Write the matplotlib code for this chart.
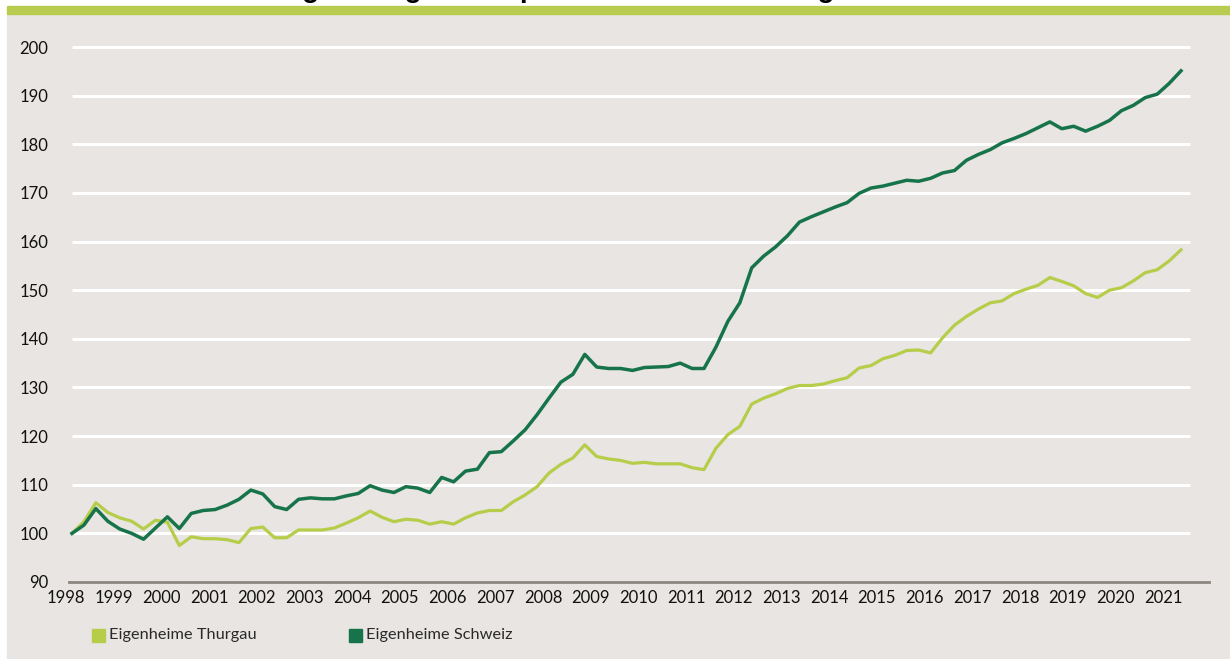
import numpy as np
import matplotlib
matplotlib.use("Agg")
import matplotlib.pyplot as plt
import matplotlib.transforms as mtransforms
from matplotlib.patches import Rectangle

# quarterly index values, 1998 Q1 = 100, up to 2021 Q2
start_year = 1998
thurgau = [100.0, 102.4, 106.3, 104.3,
           103.2, 102.5, 100.9, 102.7,
           102.3, 97.5, 99.3, 98.9,
           98.9, 98.7, 98.1, 101.0,
           101.3, 99.1, 99.1, 100.7,
           100.7, 100.7, 101.1, 102.1,
           103.2, 104.6, 103.3, 102.4,
           102.9, 102.7, 101.9, 102.4,
           101.9, 103.2, 104.2, 104.7,
           104.7, 106.5, 107.9, 109.6,
           112.4, 114.2, 115.5, 118.2,
           115.8, 115.3, 115.0, 114.4,
           114.6, 114.3, 114.3, 114.3,
           113.5, 113.1, 117.5, 120.3,
           122.0, 126.6, 127.8, 128.7,
           129.8, 130.4, 130.4, 130.7,
           131.4, 132.0, 134.0, 134.5,
           135.9, 136.6, 137.6, 137.7,
           137.1, 140.2, 142.8, 144.6,
           146.1, 147.4, 147.8, 149.3,
           150.2, 151.0, 152.6, 151.8,
           150.9, 149.3, 148.5, 150.0,
           150.5, 151.9, 153.6, 154.2,
           156.0, 158.3]
schweiz = [100.0, 101.7, 105.1, 102.5,
           100.9, 100.0, 98.8, 101.1,
           103.4, 101.0, 104.1, 104.7,
           104.9, 105.8, 107.0, 108.9,
           108.1, 105.5, 104.9, 107.0,
           107.3, 107.1, 107.1, 107.7,
           108.2, 109.8, 108.9, 108.4,
           109.6, 109.3, 108.4, 111.5,
           110.6, 112.8, 113.2, 116.6,
           116.8, 119.0, 121.3, 124.4,
           127.8, 131.1, 132.7, 136.8,
           134.2, 133.9, 133.9, 133.5,
           134.1, 134.2, 134.3, 135.0,
           133.9, 133.9, 138.3, 143.6,
           147.4, 154.6, 157.0, 158.9,
           161.2, 164.0, 165.1, 166.1,
           167.1, 168.0, 169.9, 171.0,
           171.4, 172.0, 172.6, 172.4,
           173.0, 174.1, 174.6, 176.7,
           177.9, 178.9, 180.3, 181.2,
           182.2, 183.4, 184.6, 183.2,
           183.7, 182.7, 183.7, 184.9,
           186.9, 188.0, 189.6, 190.3,
           192.5, 195.1]
years = list(range(1998, 2022))
y_ticks = [90, 100, 110, 120, 130, 140, 150, 160, 170, 180, 190, 200]
labels = ["Eigenheime Thurgau", "Eigenheime Schweiz"]
title = "Entwicklung der Eigenheimpreise im Kanton Thurgau"

light = "#b6cd4a"
dark = "#17744a"
bg = "#e8e5e2"

plt.rcParams['font.family'] = ['Lato', 'DejaVu Sans']

W, H = 1230, 659
fig = plt.figure(figsize=(W / 100, H / 100), dpi=100, facecolor="white")

# grey panel + green band at top
fig.patches.append(Rectangle((7.3 / W, 0), 1 - 7.3 / W, (H - 14) / H,
                             transform=fig.transFigure, color=bg, zorder=-10))
fig.patches.append(Rectangle((7.3 / W, (H - 14) / H), 1 - 7.3 / W, 8 / H,
                             transform=fig.transFigure, color="#b9cc50", zorder=-10))
# title, cut off at the top edge as in the source (only descenders show)
fig.text(154 / W, 1 + 2.5 / H, title, fontsize=20.2, fontweight="bold",
         family=["Liberation Sans", "DejaVu Sans"], color="black", va="baseline")

ax = fig.add_axes([69 / W, 77 / H, (1209 - 69) / W, (612 - 77) / H])
ax.set_facecolor("none")

x = start_year + np.arange(len(schweiz)) / 4
x_end = start_year + (1190 - 72) / 47.7
ax.set_xlim(start_year - 3 / 47.7, start_year + (1209 - 72) / 47.7)
ax.set_ylim(90, 200)

ax.hlines(y_ticks[1:], start_year, x_end, colors="white", linewidth=2.2,
          zorder=1, clip_on=False)
ax.plot(x, thurgau, color=light, linewidth=2.3, zorder=3, label=labels[0])
ax.plot(x, schweiz, color=dark, linewidth=2.5, zorder=4, label=labels[1])

for s in ["top", "right", "left"]:
    ax.spines[s].set_visible(False)
ax.spines["bottom"].set_color("#8c8680")
ax.spines["bottom"].set_linewidth(2.0)

ax.set_yticks(y_ticks)
ax.set_xticks(years)
ax.tick_params(axis="both", length=0, labelsize=12, colors="#111111")
ax.tick_params(axis="y", pad=15)
ax.tick_params(axis="x", pad=6)
shift = mtransforms.ScaledTranslation(-6 / 100, 0, fig.dpi_scale_trans)
for lab in ax.get_xticklabels():
    lab.set_transform(lab.get_transform() + shift)

# legend: squares with labels
for lx, col, txt in [(91.7, light, labels[0]), (349, dark, labels[1])]:
    fig.patches.append(Rectangle((lx / W, (H - 642) / H), 13 / W, 13 / H,
                                 transform=fig.transFigure, color=col))
    fig.text((lx + 17.5) / W, (H - 635) / H, txt, fontsize=11.8,
             color="#2a2a2a", va="center", ha="left")

fig.savefig("out.png", dpi=100, facecolor=fig.get_facecolor())
